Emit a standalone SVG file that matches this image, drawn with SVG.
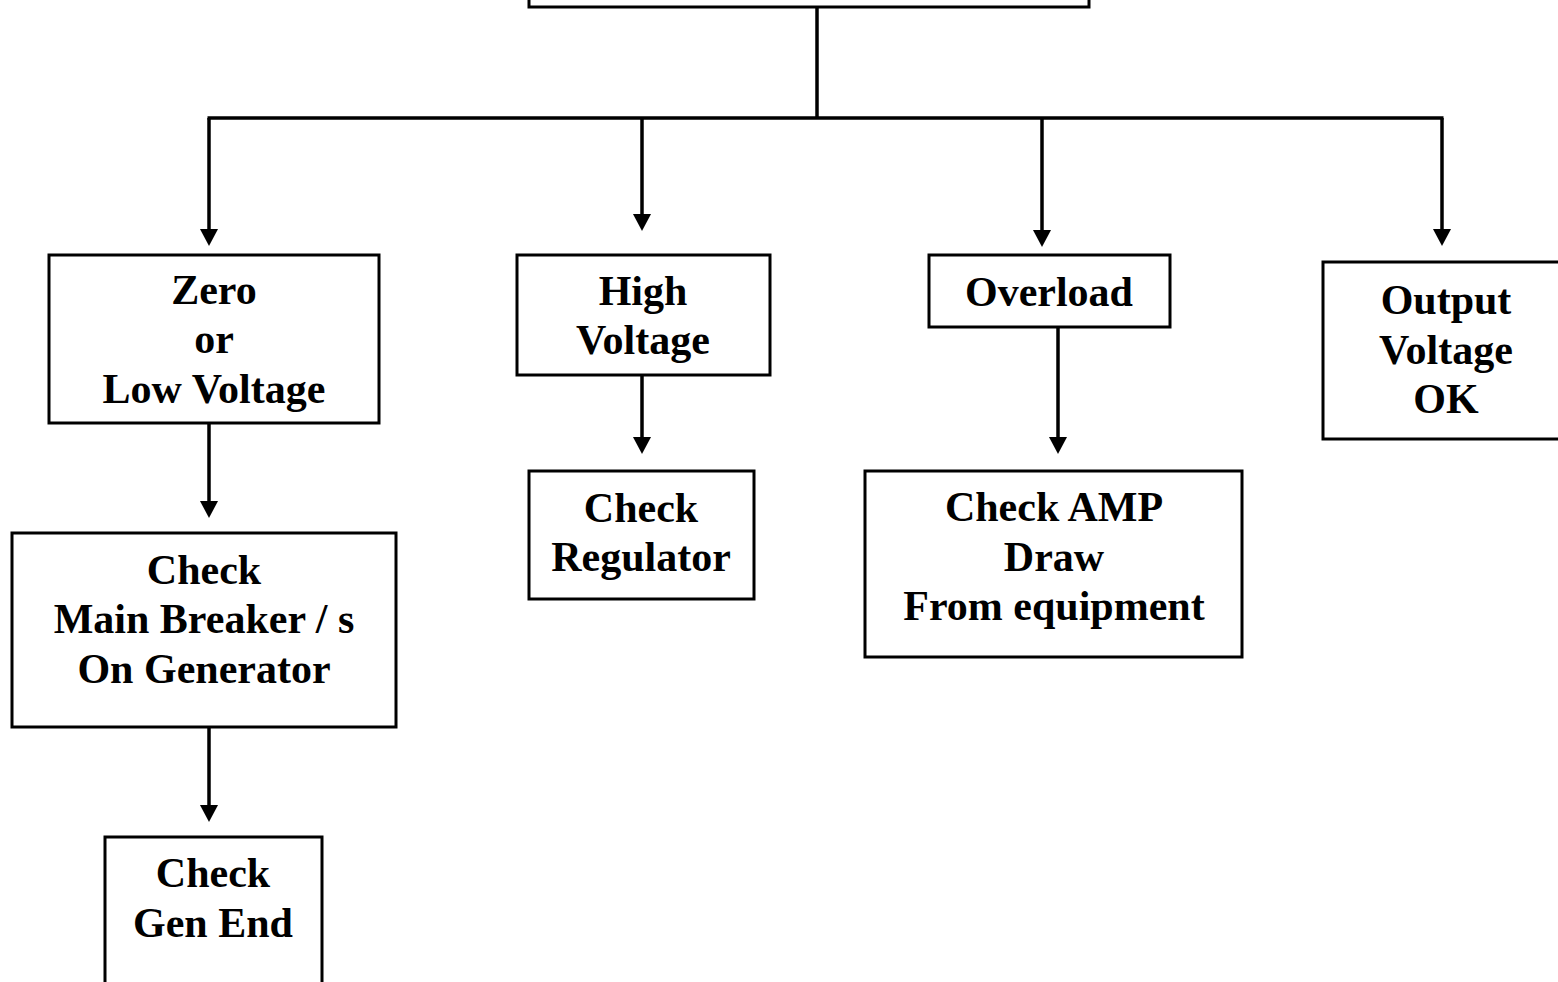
<svg xmlns="http://www.w3.org/2000/svg" width="1558" height="982" viewBox="0 0 1558 982">
<style>
.box{fill:#fff;stroke:#000;stroke-width:3}
.ln{stroke:#000;stroke-width:3.5;fill:none}
.ah{fill:#000}
.t{font-family:"Liberation Serif","Times New Roman",serif;font-weight:bold;font-size:42px;fill:#000;text-anchor:middle}
</style>
<defs>
<path id="head" class="ah" d="M-9,-17 L9,-17 L0,0 z"/>
</defs>
<rect width="1558" height="982" fill="#fff"/>
<g id="connectors">
<line class="ln" x1="817" y1="7" x2="817" y2="118"/>
<line class="ln" x1="207.5" y1="118" x2="1443.5" y2="118"/>
<line class="ln" x1="209" y1="118" x2="209" y2="235"/><use href="#head" x="209" y="246"/>
<line class="ln" x1="642" y1="118" x2="642" y2="219"/><use href="#head" x="642" y="231"/>
<line class="ln" x1="1042" y1="118" x2="1042" y2="236"/><use href="#head" x="1042" y="247"/>
<line class="ln" x1="1442" y1="118" x2="1442" y2="235"/><use href="#head" x="1442" y="246"/>
<line class="ln" x1="209" y1="423" x2="209" y2="507"/><use href="#head" x="209" y="518"/>
<line class="ln" x1="209" y1="727" x2="209" y2="811"/><use href="#head" x="209" y="822"/>
<line class="ln" x1="642" y1="375" x2="642" y2="443"/><use href="#head" x="642" y="454"/>
<line class="ln" x1="1058" y1="327" x2="1058" y2="443"/><use href="#head" x="1058" y="454"/>
</g>
<g id="top"><rect class="box" x="529" y="-20" width="560" height="27"/></g>
<g id="zero"><rect class="box" x="49" y="255" width="330" height="168"/>
<text class="t" x="214" y="304">Zero</text><text class="t" x="214" y="353">or</text><text class="t" x="214" y="403">Low Voltage</text></g>
<g id="high"><rect class="box" x="517" y="255" width="253" height="120"/>
<text class="t" x="643" y="305">High</text><text class="t" x="643" y="354">Voltage</text></g>
<g id="overload"><rect class="box" x="929" y="255" width="241" height="72"/>
<text class="t" x="1049" y="306">Overload</text></g>
<g id="output"><rect class="box" x="1323" y="262" width="250" height="177"/>
<text class="t" x="1446" y="314">Output</text><text class="t" x="1446" y="364">Voltage</text><text class="t" x="1446" y="413">OK</text></g>
<g id="mainbreaker"><rect class="box" x="12" y="533" width="384" height="194"/>
<text class="t" x="204" y="584">Check</text><text class="t" x="204" y="633">Main Breaker / s</text><text class="t" x="204" y="683">On Generator</text></g>
<g id="regulator"><rect class="box" x="529" y="471" width="225" height="128"/>
<text class="t" x="641" y="522">Check</text><text class="t" x="641" y="571">Regulator</text></g>
<g id="amp"><rect class="box" x="865" y="471" width="377" height="186"/>
<text class="t" x="1054" y="521">Check AMP</text><text class="t" x="1054" y="571">Draw</text><text class="t" x="1054" y="620">From equipment</text></g>
<g id="genend"><rect class="box" x="105" y="837" width="217" height="170"/>
<text class="t" x="213" y="887">Check</text><text class="t" x="213" y="937">Gen End</text></g>
</svg>
